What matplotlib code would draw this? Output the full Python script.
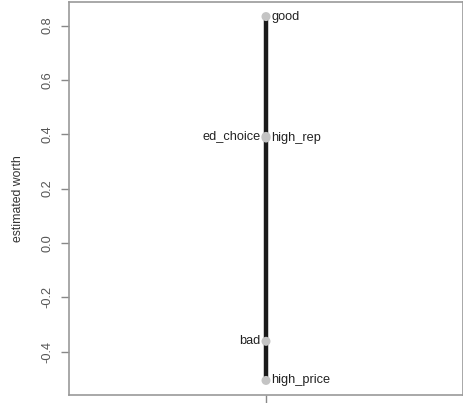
import matplotlib
matplotlib.use("Agg")
import matplotlib.pyplot as plt

plt.rcParams['font.family'] = ['Liberation Sans', 'DejaVu Sans']

# estimated worth of each item
items = ['good', 'ed_choice', 'high_rep', 'bad', 'high_price']
worth = [0.833, 0.392, 0.386, -0.362, -0.506]
side = ['right', 'left', 'right', 'left', 'right']
yticks = [-0.4, -0.2, 0.0, 0.2, 0.4, 0.6, 0.8]

fig = plt.figure(figsize=(4.64, 4.03), dpi=100)
ax = fig.add_axes([69 / 464, 8 / 403, 394 / 464, 393 / 403])

xs = [1] * len(worth)
ax.plot([1, 1], [min(worth), max(worth)], color='#1a1a1a', lw=3.2, zorder=1,
        solid_capstyle='butt')
ax.scatter(xs, worth, s=42, color='#c4c4c4', zorder=2, edgecolors='none')

for name, w, s in zip(items, worth, side):
    dx = 4 if s == 'right' else -4
    ha = 'left' if s == 'right' else 'right'
    ax.annotate(name, (1, w), xytext=(dx, 0), textcoords='offset points',
                ha=ha, va='center', fontsize=9.2, color='#222222')

rng = max(worth) - min(worth)
ax.set_ylim(min(worth) - 0.04 * rng, max(worth) + 0.04 * rng)
ax.set_xlim(0.5, 1.5)
ax.set_yticks(yticks)
ax.set_yticklabels(['%.1f' % v for v in yticks], rotation=90, va='center',
                   fontsize=9.2, color='#555555')
ax.set_xticks([1])
ax.set_xticklabels([''])
ax.tick_params(axis='both', length=6, width=1, color='#888888', pad=5)
for sp in ax.spines.values():
    sp.set_color('#999999')
    sp.set_linewidth(1.2)
ax.set_ylabel('estimated worth', fontsize=8.8, color='#333333', labelpad=13)

fig.savefig('out.png', dpi=100)
